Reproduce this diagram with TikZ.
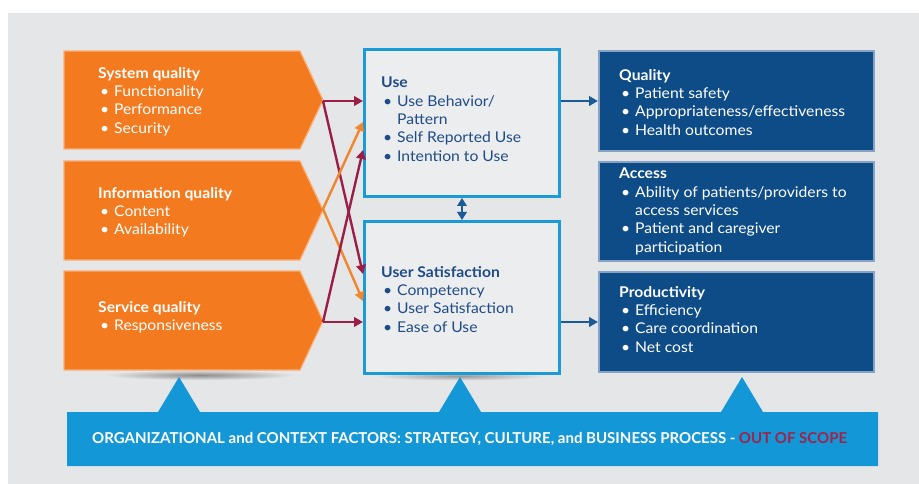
\documentclass[tikz,border=0pt]{standalone}
\usepackage{fontspec}
\setmainfont{Lato}[FakeStretch=1.06]
\usetikzlibrary{arrows.meta,calc}

\definecolor{bg}{HTML}{E5E6E8}
\definecolor{orng}{HTML}{F47A20}
\definecolor{orngedge}{HTML}{F9B07A}
\definecolor{skyb}{HTML}{1A9AD7}
\definecolor{paleb}{HTML}{ECEDEF}
\definecolor{navy}{HTML}{0E4C88}
\definecolor{navyedge}{HTML}{86A3C6}
\definecolor{ink}{HTML}{1F4C86}
\definecolor{maroon}{HTML}{9B1E47}
\definecolor{orarrow}{HTML}{F0862E}
\definecolor{arrowblue}{HTML}{1D5A98}
\definecolor{band}{HTML}{1497D6}
\definecolor{scope}{HTML}{A0234A}

% bullet with hanging indent, and the indent for wrapped lines
\newcommand{\bl}{\makebox[16pt][l]{\hspace{2pt}\textbullet}}
\newcommand{\ind}{\hspace*{16pt}}

\tikzset{
  chevron/.style={fill=orng, draw=orngedge, line width=1.2pt},
  midbox/.style={draw=skyb, fill=paleb, line width=3pt, minimum width=195pt,
    inner sep=0pt, anchor=north west},
  outbox/.style={draw=navyedge, fill=navy, line width=2pt, minimum width=275pt,
    inner sep=0pt, anchor=north west},
  txt/.style={anchor=north west, inner sep=0pt, align=left,
    font=\fontsize{14.8}{18.3}\selectfont},
  wtxt/.style={txt, text=white},
  btxt/.style={txt, text=ink},
  link/.style={line width=2.4pt, -{Triangle[length=9pt,width=9.5pt]}},
  twoway/.style={line width=2.4pt, {Triangle[length=8pt,width=9.5pt]}-{Triangle[length=8pt,width=9.5pt]}},
}

\begin{document}
\begin{tikzpicture}[x=1pt,y=-1pt]
  % canvas
  \fill[white] (0,0) rectangle (919,484);
  \fill[bg] (8,13) rectangle (919,484);
  \useasboundingbox (0,0) rectangle (919,484);

  % soft shadows under the lower boxes
  \shade[inner color=black!45, outer color=bg] (200,375) ellipse [x radius=95, y radius=5];
  \shade[inner color=black!40, outer color=bg] (460,376) ellipse [x radius=85, y radius=4.5];

  % bottom band with its three pointers
  \fill[band] (67,412) -- (158,412) -- (179,377) -- (200,412)
    -- (439,412) -- (460,377) -- (481,412)
    -- (721,412) -- (742,377) -- (763,412)
    -- (878,412) -- (878,466) -- (67,466) -- cycle;
  \node[anchor=base west, inner sep=0pt, text=white,
        font=\fontsize{15}{18}\selectfont\bfseries] (ctx) at (92,443)
    {\resizebox{755pt}{\height}{ORGANIZATIONAL and CONTEXT FACTORS: STRATEGY, CULTURE, and BUSINESS PROCESS - \textcolor{scope}{OUT OF SCOPE}}};

  % input dimensions
  \draw[chevron] (64,51) -- (300,51) -- (323,100) -- (300,149) -- (64,149) -- cycle;
  \draw[chevron] (64,161) -- (300,161) -- (323,210) -- (300,260) -- (64,260) -- cycle;
  \draw[chevron] (64,271) -- (300,271) -- (323,321) -- (300,370) -- (64,370) -- cycle;
  \coordinate (sysT) at (323,101);
  \coordinate (infT) at (323,209);
  \coordinate (srvT) at (323,322);

  \node[wtxt] (systxt) at (98,67) {\textbf{System quality}\\\bl Functionality\\\bl Performance\\\bl Security};
  \node[wtxt] (inftxt) at (98,187) {\textbf{Information quality}\\\bl Content\\\bl Availability};
  \node[wtxt] (srvtxt) at (98,301) {\textbf{Service quality}\\\bl Responsiveness};

  % use and satisfaction
  \node[midbox, minimum height=147pt] (use) at (363,48) {};
  \node[midbox, minimum height=152pt] (sat) at (363,220) {};
  \node[btxt] (usetxt) at (381,77) {\textbf{Use}\\\bl Use Behavior/\\\ind Pattern\\\bl Self Reported Use\\\bl Intention to Use};
  \node[btxt] (sattxt) at (381,266) {\textbf{User Satisfaction}\\\bl Competency\\\bl User Satisfaction\\\bl Ease of Use};

  % net benefits
  \node[outbox, minimum height=100pt] (qual) at (598,50) {};
  \node[outbox, minimum height=99pt] (acc) at (598,161) {};
  \node[outbox, minimum height=100pt] (prod) at (598,271) {};
  \node[wtxt] (qualtxt) at (619,69) {\textbf{Quality}\\\bl Patient safety\\\bl Appropriateness/effectiveness\\\bl Health outcomes};
  \node[wtxt] (acctxt) at (619,168) {\textbf{Access}\\\bl Ability of patients/providers to\\\ind access services\\\bl Patient and caregiver\\\ind participation};
  \node[wtxt] (prodtxt) at (619,286) {\textbf{Productivity}\\\bl Efficiency\\\bl Care coordination\\\bl Net cost};

  % connectors from the quality dimensions
  \draw[link, maroon] (sysT) -- (use.west |- sysT);
  \draw[link, maroon] (sysT) -- ([yshift=-54pt]sat.north west);
  \draw[link, orarrow] (infT) -- ([yshift=-74pt]use.north west);
  \draw[link, orarrow] (infT) -- ([yshift=-81pt]sat.north west);
  \draw[link, maroon] (srvT) -- ([yshift=-102pt]use.north west);
  \draw[link, maroon] (srvT) -- (sat.west |- srvT);

  % use <-> satisfaction, and on to net benefits
  \draw[twoway, arrowblue] (use.south) -- (sat.north);
  \draw[link, arrowblue] (use.east |- qual.west) -- (qual.west);
  \draw[link, arrowblue] (sat.east |- prod.west) -- (prod.west);
\end{tikzpicture}
\end{document}
